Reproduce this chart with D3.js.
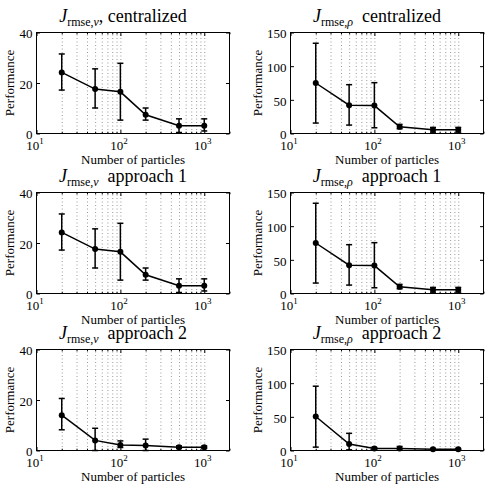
<!DOCTYPE html>
<html>
<head>
<meta charset="utf-8">
<script src="https://cdn.jsdelivr.net/npm/d3@7"></script>
<style>
  body { margin: 0; background: #fff; }
  svg { display: block; }
  svg text { font-family: "Liberation Serif", "Times New Roman", serif; fill: #000; }
</style>
</head>
<body>
<svg id="chart" width="488" height="488"></svg>
<script>
// number of particles (x) and the log-axis ticks
const particles = [20, 50, 100, 200, 500, 1000];
const xMajorTicks = [10, 100, 1000];
const xMinorTicks = [20, 30, 40, 50, 60, 70, 80, 90, 200, 300, 400, 500, 600, 700, 800, 900, 2000];
const xGridTicks = [20, 30, 40, 50, 60, 70, 80, 90, 100, 200, 300, 400, 500, 600, 700, 800, 900, 1000];
const yTicksV = [0, 20, 40];
const yTicksRho = [0, 50, 100, 150];

// J_rmse,v : mean and error bar ends
const vCentralMean = [24.2, 17.6, 16.5, 7.4, 3.1, 3.1];
const vCentralLow  = [17.2, 10.1, 5.3, 5.3, 0.4, 1.0];
const vCentralHigh = [31.5, 25.6, 27.8, 10.1, 5.8, 5.8];
const vApp1Mean = [24.2, 17.6, 16.5, 7.4, 3.1, 3.1];
const vApp1Low  = [17.2, 10.1, 5.3, 5.3, 0.4, 1.0];
const vApp1High = [31.5, 25.6, 27.8, 10.1, 5.8, 5.8];
const vApp2Mean = [14.0, 4.0, 2.2, 2.0, 1.3, 1.3];
const vApp2Low  = [8.2, 0.0, 1.2, 0.0, 0.8, 0.8];
const vApp2High = [20.6, 8.8, 3.8, 4.5, 1.8, 1.8];

// J_rmse,rho
const rhoCentralMean = [75, 42, 41.5, 10, 5.5, 5.5];
const rhoCentralLow  = [15.5, 12.5, 8.5, 7, 2, 2];
const rhoCentralHigh = [134, 72.5, 75.5, 13.5, 9, 9];
const rhoApp1Mean = [75, 42, 41.5, 10, 5.5, 5.5];
const rhoApp1Low  = [15.5, 12.5, 8.5, 7, 2, 2];
const rhoApp1High = [134, 72.5, 75.5, 13.5, 9, 9];
const rhoApp2Mean = [50.5, 9.5, 3, 3, 2, 2];
const rhoApp2Low  = [5, 1, 1.5, 0.5, 1, 1];
const rhoApp2High = [95.5, 25.5, 4.5, 6, 3, 3];

const panels = [
  {row: 0, col: 0, sym: "\u03BD", comma: true,  label: "centralized", ymax: 40,  yticks: yTicksV,   mean: vCentralMean, lo: vCentralLow, hi: vCentralHigh},
  {row: 0, col: 1, sym: "\u03C1", comma: false, label: "centralized", ymax: 150, yticks: yTicksRho, mean: rhoCentralMean, lo: rhoCentralLow, hi: rhoCentralHigh},
  {row: 1, col: 0, sym: "\u03BD", comma: false, label: "approach 1",  ymax: 40,  yticks: yTicksV,   mean: vApp1Mean, lo: vApp1Low, hi: vApp1High},
  {row: 1, col: 1, sym: "\u03C1", comma: false, label: "approach 1",  ymax: 150, yticks: yTicksRho, mean: rhoApp1Mean, lo: rhoApp1Low, hi: rhoApp1High},
  {row: 2, col: 0, sym: "\u03BD", comma: false, label: "approach 2",  ymax: 40,  yticks: yTicksV,   mean: vApp2Mean, lo: vApp2Low, hi: vApp2High},
  {row: 2, col: 1, sym: "\u03C1", comma: false, label: "approach 2",  ymax: 150, yticks: yTicksRho, mean: rhoApp2Mean, lo: rhoApp2Low, hi: rhoApp2High}
];

const colLeft = [36.5, 290.5];
const rowTop = [32.5, 192.5, 349.5];
const w = 193, h = 101;
const ylabelOffset = [-23, -29];
const serif = "Liberation Serif, Times New Roman, serif";

const svg = d3.select("#chart");

const x = d3.scaleLog().domain([10, 2000]).range([0, w]);

function clean(axisG) {
  axisG.attr("font-family", null).attr("font-size", null);
  axisG.select(".domain").remove();
  return axisG;
}

panels.forEach(p => {
  const g = svg.append("g")
    .attr("transform", `translate(${colLeft[p.col]},${rowTop[p.row]})`);
  const y = d3.scaleLinear().domain([0, p.ymax]).range([h, 0]);

  // dotted vertical grid
  const grid = clean(g.append("g")
    .attr("transform", `translate(0,${h})`)
    .call(d3.axisBottom(x).tickValues(xGridTicks).tickSize(-h).tickFormat("")));
  grid.selectAll("line")
    .attr("stroke", "#555")
    .attr("stroke-width", 0.6)
    .attr("stroke-dasharray", "1,2.5");

  // minor ticks, bottom and top
  [[d3.axisBottom, h], [d3.axisTop, 0]].forEach(([ax, ty]) => {
    clean(g.append("g").attr("transform", `translate(0,${ty})`)
      .call(ax(x).tickValues(xMinorTicks).tickSize(-1.8).tickFormat("")));
  });

  // major x ticks with labels
  const xa = clean(g.append("g").attr("transform", `translate(0,${h})`)
    .call(d3.axisBottom(x).tickValues(xMajorTicks).tickSize(-3.5)));
  xa.selectAll("text").each(function(d) {
    const t = d3.select(this);
    t.text(null).attr("y", 16).attr("dy", null).attr("x", -2)
      .attr("font-size", 13).attr("font-family", serif);
    t.append("tspan").text("10");
    t.append("tspan").attr("font-size", 9).attr("dy", -6).text(Math.round(Math.log10(d)));
  });
  clean(g.append("g")
    .call(d3.axisTop(x).tickValues(xMajorTicks).tickSize(-3.5).tickFormat("")));

  // y axes, left with labels, right without
  const ya = clean(g.append("g")
    .call(d3.axisLeft(y).tickValues(p.yticks).tickSize(-3.5).tickPadding(4)));
  ya.selectAll("text").attr("font-size", 13).attr("font-family", serif).attr("dy", "0.4em");
  clean(g.append("g").attr("transform", `translate(${w},0)`)
    .call(d3.axisRight(y).tickValues(p.yticks).tickSize(-3.5).tickFormat("")));

  // frame
  g.append("rect").attr("width", w).attr("height", h)
    .attr("fill", "none").attr("stroke", "#000").attr("stroke-width", 1);

  const pts = particles.map((n, i) => ({n: n, m: p.mean[i], lo: p.lo[i], hi: p.hi[i]}));

  // error bars
  const eb = g.append("g").attr("stroke", "#000").attr("stroke-width", 1.5);
  pts.forEach(d => {
    eb.append("line").attr("x1", x(d.n)).attr("x2", x(d.n)).attr("y1", y(d.lo)).attr("y2", y(d.hi));
    eb.append("line").attr("x1", x(d.n) - 3).attr("x2", x(d.n) + 3).attr("y1", y(d.lo)).attr("y2", y(d.lo));
    eb.append("line").attr("x1", x(d.n) - 3).attr("x2", x(d.n) + 3).attr("y1", y(d.hi)).attr("y2", y(d.hi));
  });

  // mean line and markers
  g.append("path").datum(pts)
    .attr("fill", "none").attr("stroke", "#000").attr("stroke-width", 1.5)
    .attr("d", d3.line().x(d => x(d.n)).y(d => y(d.m)));
  g.selectAll("circle.pt").data(pts).enter().append("circle")
    .attr("class", "pt")
    .attr("cx", d => x(d.n)).attr("cy", d => y(d.m)).attr("r", 3)
    .attr("fill", "#000");

  // labels
  g.append("text")
    .attr("x", w / 2).attr("y", h + 30.5)
    .attr("text-anchor", "middle").attr("font-size", 13).attr("font-family", serif)
    .text("Number of particles");
  g.append("text")
    .attr("transform", `translate(${ylabelOffset[p.col]},${h / 2}) rotate(-90)`)
    .attr("text-anchor", "middle").attr("font-size", 13).attr("font-family", serif)
    .text("Performance");

  // title: J_{rmse,sym} label
  const title = g.append("text")
    .attr("x", w / 2 - 10).attr("y", -10.5)
    .attr("text-anchor", "middle").attr("font-size", 18).attr("font-family", serif);
  title.append("tspan").attr("font-style", "italic").text("J");
  title.append("tspan").attr("font-size", 12).attr("dy", 4).text("rmse,");
  title.append("tspan").attr("font-size", 12).attr("font-style", "italic").text(p.sym);
  title.append("tspan").attr("dy", -4)
    .text((p.comma ? ", " : "\u00A0 ") + p.label);
});
</script>
</body>
</html>
